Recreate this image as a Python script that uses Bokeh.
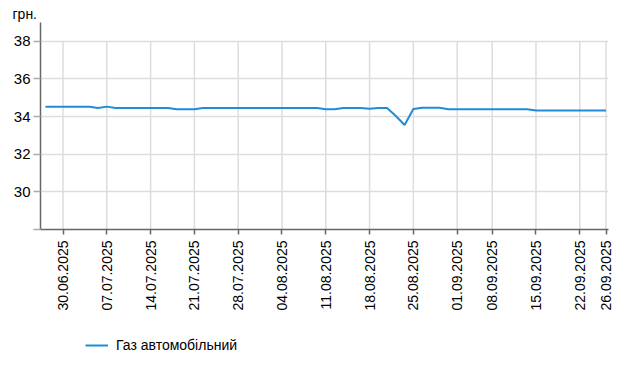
from bokeh.plotting import figure
from bokeh.models import FixedTicker, Legend, LegendItem, Range1d
from bokeh.layouts import column
from bokeh.embed import file_html
from bokeh.resources import INLINE
import math

# ---- data ----
dates = [
    "26.06.2025", "27.06.2025",
    "30.06.2025", "01.07.2025", "02.07.2025", "03.07.2025", "04.07.2025",
    "07.07.2025", "08.07.2025", "09.07.2025", "10.07.2025", "11.07.2025",
    "14.07.2025", "15.07.2025", "16.07.2025", "17.07.2025", "18.07.2025",
    "21.07.2025", "22.07.2025", "23.07.2025", "24.07.2025", "25.07.2025",
    "28.07.2025", "29.07.2025", "30.07.2025", "31.07.2025", "01.08.2025",
    "04.08.2025", "05.08.2025", "06.08.2025", "07.08.2025", "08.08.2025",
    "11.08.2025", "12.08.2025", "13.08.2025", "14.08.2025", "15.08.2025",
    "18.08.2025", "19.08.2025", "20.08.2025", "21.08.2025", "22.08.2025",
    "25.08.2025", "26.08.2025", "27.08.2025", "28.08.2025", "29.08.2025",
    "01.09.2025", "02.09.2025", "03.09.2025", "04.09.2025",
    "08.09.2025", "09.09.2025", "10.09.2025", "11.09.2025", "12.09.2025",
    "15.09.2025", "16.09.2025", "17.09.2025", "18.09.2025", "19.09.2025",
    "22.09.2025", "23.09.2025", "25.09.2025", "26.09.2025",
]
gas_prices = [
    34.52, 34.52,
    34.52, 34.52, 34.52, 34.52, 34.46,
    34.53, 34.46, 34.46, 34.46, 34.46,
    34.46, 34.46, 34.46, 34.39, 34.39,
    34.39, 34.46, 34.46, 34.46, 34.46,
    34.46, 34.46, 34.46, 34.46, 34.46,
    34.46, 34.46, 34.46, 34.46, 34.46,
    34.39, 34.39, 34.46, 34.46, 34.46,
    34.42, 34.46, 34.46, 34.03, 33.55,
    34.40, 34.47, 34.47, 34.47, 34.39,
    34.39, 34.39, 34.39, 34.39,
    34.39, 34.39, 34.39, 34.39, 34.39,
    34.32, 34.32, 34.32, 34.32, 34.32,
    34.32, 34.32, 34.32, 34.32,
]
tick_labels = [
    "30.06.2025", "07.07.2025", "14.07.2025", "21.07.2025", "28.07.2025",
    "04.08.2025", "11.08.2025", "18.08.2025", "25.08.2025", "01.09.2025",
    "08.09.2025", "15.09.2025", "22.09.2025", "26.09.2025",
]
y_ticks = [28, 30, 32, 34, 36, 38]
series_name = "Газ автомобільний"
unit_label = "грн."

FONT = "Liberation Sans"
LINE_COLOR = "#1f8dd6"
GRID_COLOR = "#dddddd"
AXIS_COLOR = "#666666"

xs = list(range(len(dates)))
tick_pos = [dates.index(d) for d in tick_labels]

# ---- main chart ----
p = figure(
    width=623, height=330,
    output_backend="svg", toolbar_location=None,
    x_range=Range1d(-0.57, len(dates) - 1 + 0.28),
    y_range=Range1d(28, 39),
    min_border_left=40, min_border_right=15, min_border_top=22, min_border_bottom=101,
)
p.outline_line_color = None
p.background_fill_color = "white"
p.border_fill_color = "white"

p.title.text = unit_label
p.title.text_font = FONT
p.title.text_font_size = "14px"
p.title.text_font_style = "normal"
p.title.text_color = "#000000"
p.title.align = "left"
p.title.offset = -28
p.title.standoff = 2

p.xgrid.visible = False
p.ygrid.ticker = FixedTicker(ticks=y_ticks)
p.ygrid.grid_line_color = GRID_COLOR
p.ygrid.grid_line_width = 1.5
p.segment(x0=tick_pos, x1=tick_pos, y0=[y_ticks[0]] * len(tick_pos),
          y1=[y_ticks[-1]] * len(tick_pos), line_color=GRID_COLOR,
          line_width=1.5, level="underlay")

p.yaxis.ticker = FixedTicker(ticks=y_ticks)
p.yaxis.major_label_overrides = {y_ticks[0]: ""}
p.yaxis.axis_line_color = AXIS_COLOR
p.yaxis.axis_line_width = 1.5
p.yaxis.major_tick_line_color = "#aaaaaa"
p.yaxis.major_tick_line_width = 1.5
p.yaxis.major_tick_in = 0
p.yaxis.major_tick_out = 7
p.yaxis.minor_tick_line_color = None
p.yaxis.major_label_text_font = FONT
p.yaxis.major_label_text_font_size = "15px"
p.yaxis.major_label_text_color = "#000000"
p.yaxis.major_label_standoff = 3

p.xaxis.ticker = FixedTicker(ticks=tick_pos)
p.xaxis.major_label_overrides = {i: d for i, d in zip(tick_pos, tick_labels)}
p.xaxis.major_label_orientation = math.pi / 2
p.xaxis.axis_line_color = AXIS_COLOR
p.xaxis.axis_line_width = 1.5
p.xaxis.major_tick_line_color = AXIS_COLOR
p.xaxis.major_tick_line_width = 1.5
p.xaxis.major_tick_in = 0
p.xaxis.major_tick_out = 5
p.xaxis.minor_tick_line_color = None
p.xaxis.major_label_text_font = FONT
p.xaxis.major_label_text_font_size = "14px"
p.xaxis.major_label_text_color = "#000000"
p.xaxis.major_label_standoff = 6

p.line(xs, gas_prices, line_color=LINE_COLOR, line_width=2)

# ---- legend strip below the chart ----
p2 = figure(
    width=623, height=42,
    output_backend="svg", toolbar_location=None,
    x_range=Range1d(0, 1), y_range=Range1d(0, 1),
    x_axis_location=None, y_axis_location=None, min_border=0,
)
p2.outline_line_color = None
p2.grid.visible = False
p2.background_fill_color = "white"
p2.border_fill_color = "white"
r2 = p2.line(xs, gas_prices, line_color=LINE_COLOR, line_width=2, visible=False)

legend = Legend(items=[LegendItem(label=series_name, renderers=[r2])],
                location=(45, 19), orientation="horizontal",
                margin=0, padding=0, border_line_alpha=0,
                background_fill_alpha=0, click_policy="none",
                glyph_width=23, glyph_height=14, label_height=16, label_standoff=8,
                label_text_font=FONT, label_text_font_size="14px",
                label_text_color="#000000")
p2.add_layout(legend, "center")

layout = column(p, p2, spacing=0)
open("out.html", "w").write(file_html(layout, INLINE))
